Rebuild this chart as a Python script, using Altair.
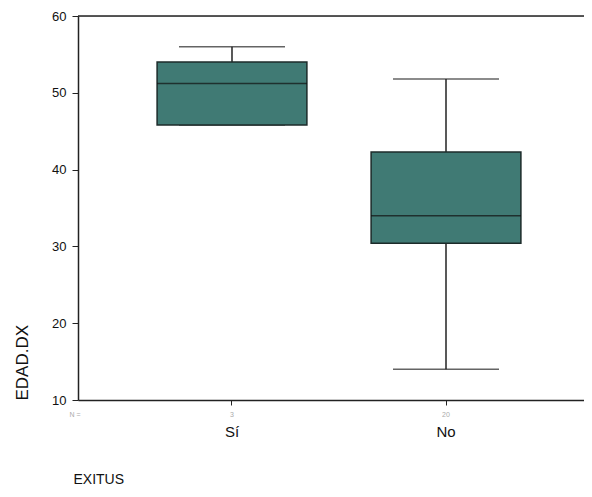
import altair as alt
import pandas as pd

categories = ["Sí", "No"]
n_counts = ["3", "20"]
mins = [45.8, 14.0]
q1s = [45.8, 30.4]
medians = [51.2, 34.0]
q3s = [54.0, 42.3]
maxs = [56.0, 51.8]

df = pd.DataFrame({
    "EXITUS": categories, "n": n_counts, "min": mins, "q1": q1s,
    "median": medians, "q3": q3s, "max": maxs,
})

W, H = 506, 384
FONT = "Liberation Sans"

xscale = alt.Scale(domain=categories, range=[0, 522], paddingInner=0.3, paddingOuter=0.3696)
yscale = alt.Scale(domain=[10, 60], nice=False, zero=False)

x_enc = alt.X("EXITUS:N", scale=xscale, sort=categories,
              axis=alt.Axis(title="EXITUS", labelAngle=0, labelFont=FONT, labelFontSize=15,
                            labelColor="#111", labelPadding=19, tickSize=5, tickColor="#222",
                            domainColor="#222", domainWidth=1.5, titleFont=FONT, titleFontSize=14,
                            titleFontWeight="normal", titleColor="#111", titleAnchor="start",
                            titleAlign="left", titleX=-5, titleY=79, titleBaseline="middle"))

base = alt.Chart(df)

whisker = base.mark_rule(color="#222", strokeWidth=1.5).encode(
    x=x_enc,
    y=alt.Y("min:Q", scale=yscale,
            axis=alt.Axis(title="EDAD.DX", values=[10, 20, 30, 40, 50, 60], labelFont=FONT,
                          labelFontSize=13, labelColor="#111", tickSize=6, tickColor="#222",
                          labelPadding=6, domainColor="#222", domainWidth=1.5, grid=False,
                          titleFont=FONT, titleFontSize=17, titleFontWeight="normal",
                          titleColor="#111", titleAngle=270, titleAlign="left",
                          titleBaseline="middle", titleX=-56, titleY=H)),
    y2="max:Q",
)
caps_top = base.mark_tick(color="#222", size=106, thickness=1.5, orient="horizontal").encode(
    x=alt.X("EXITUS:N", scale=xscale, sort=categories), y=alt.Y("max:Q", scale=yscale))
caps_bot = base.mark_tick(color="#222", size=106, thickness=1.5, orient="horizontal").encode(
    x=alt.X("EXITUS:N", scale=xscale, sort=categories), y=alt.Y("min:Q", scale=yscale))
box = base.mark_bar(color="#407a74", stroke="#1c2b2a", strokeWidth=1.5).encode(
    x=alt.X("EXITUS:N", scale=xscale, sort=categories),
    y=alt.Y("q1:Q", scale=yscale), y2="q3:Q")
med = base.mark_tick(color="#111", size=150, thickness=1.5, orient="horizontal").encode(
    x=alt.X("EXITUS:N", scale=xscale, sort=categories), y=alt.Y("median:Q", scale=yscale))
ntext = base.mark_text(font=FONT, fontSize=7, color="#aaaaaa", baseline="middle").encode(
    x=alt.X("EXITUS:N", scale=xscale, sort=categories), y=alt.value(H + 15), text="n:N")
nlabel = alt.Chart(pd.DataFrame({"t": ["N ="]})).mark_text(
    font=FONT, fontSize=7, color="#aaaaaa", baseline="middle").encode(
    x=alt.value(-3), y=alt.value(H + 15), text="t:N")
topline = alt.Chart(pd.DataFrame({"v": [60]})).mark_rule(color="#222", strokeWidth=1.5).encode(
    y=alt.Y("v:Q", scale=yscale))

chart = alt.layer(whisker, caps_top, caps_bot, box, med, ntext, nlabel, topline).properties(
    width=W, height=H,
    padding={"left": 70, "top": 8, "right": 0, "bottom": 89},
    autosize=alt.AutoSizeParams(type="none"),
).configure_view(stroke=None).configure(background="white")

chart.save("out.html", embed_options={"renderer": "svg", "actions": False})
